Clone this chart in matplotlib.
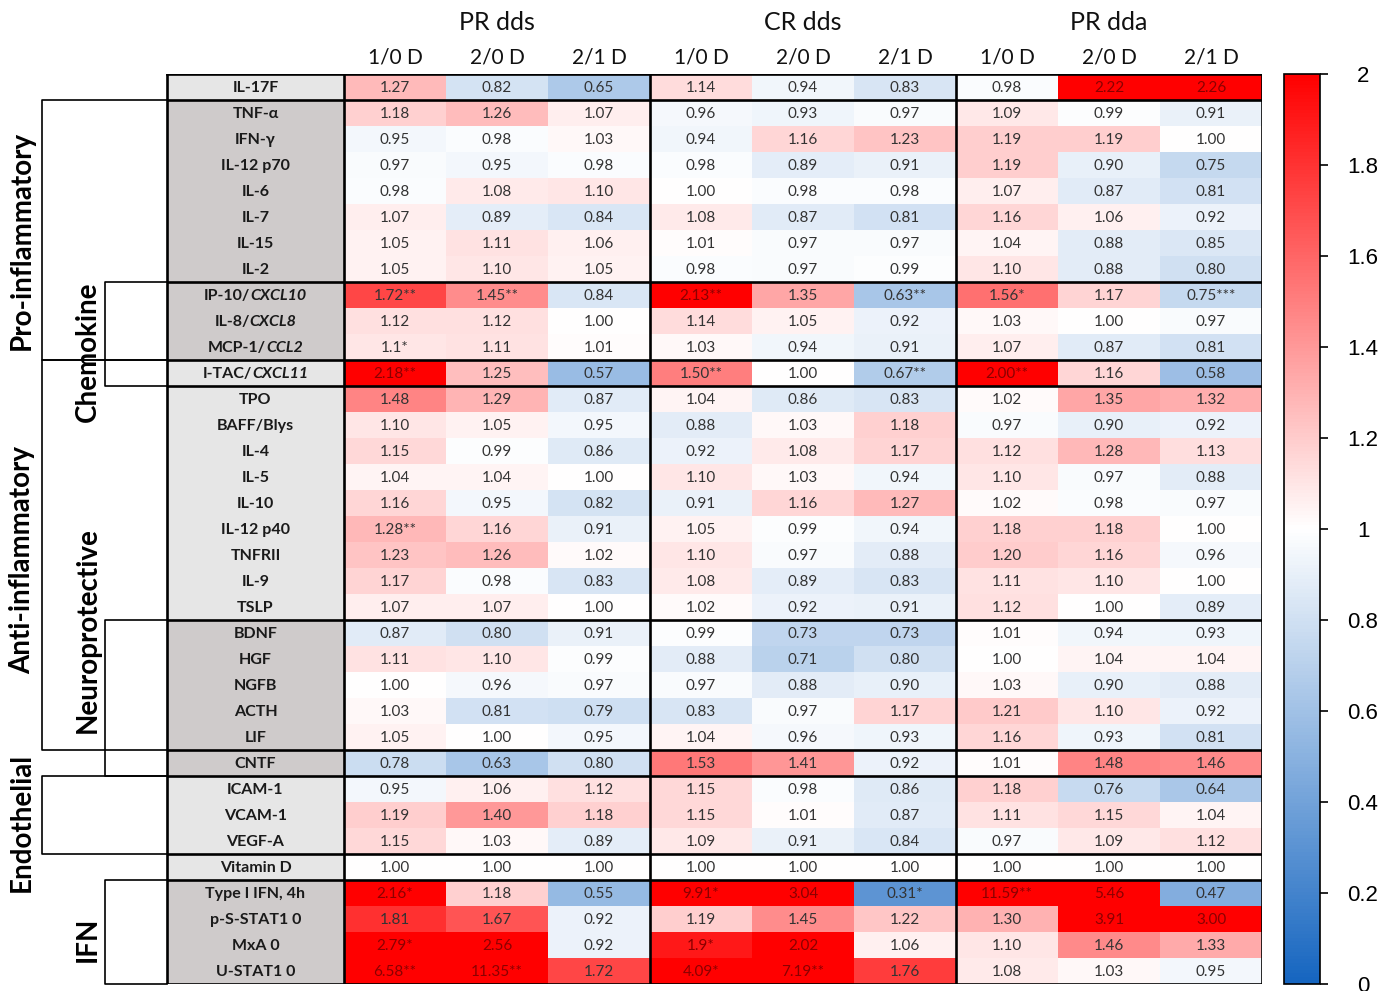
import numpy as np
import matplotlib
matplotlib.use("Agg")
import matplotlib.pyplot as plt
from matplotlib.colors import LinearSegmentedColormap
from matplotlib.patches import Rectangle
from matplotlib.offsetbox import TextArea, HPacker, AnnotationBbox
from matplotlib.ticker import FormatStrFormatter

plt.rcParams["font.family"] = ["Lato", "DejaVu Sans"]

# ---------------------------------------------------------------- data
groups = ["PR dds", "CR dds", "PR dda"]
contrasts = ["1/0 D", "2/0 D", "2/1 D"]

markers = [
    "IL-17F", "TNF-α", "IFN-γ", "IL-12 p70", "IL-6", "IL-7", "IL-15", "IL-2",
    "IP-10/CXCL10", "IL-8/CXCL8", "MCP-1/CCL2", "I-TAC/CXCL11",
    "TPO", "BAFF/Blys", "IL-4", "IL-5", "IL-10", "IL-12 p40", "TNFRII", "IL-9",
    "TSLP", "BDNF", "HGF", "NGFB", "ACTH", "LIF", "CNTF",
    "ICAM-1", "VCAM-1", "VEGF-A", "Vitamin D",
    "Type I IFN, 4h", "p-S-STAT1 0", "MxA 0", "U-STAT1 0",
]
gene_symbols = ["CXCL10", "CXCL8", "CCL2", "CXCL11"]

# fold changes with significance stars (1/0 D, 2/0 D, 2/1 D)
pr_dds = [
    ("1.27", "0.82", "0.65"), ("1.18", "1.26", "1.07"), ("0.95", "0.98", "1.03"),
    ("0.97", "0.95", "0.98"), ("0.98", "1.08", "1.10"), ("1.07", "0.89", "0.84"),
    ("1.05", "1.11", "1.06"), ("1.05", "1.10", "1.05"), ("1.72**", "1.45**", "0.84"),
    ("1.12", "1.12", "1.00"), ("1.1*", "1.11", "1.01"), ("2.18**", "1.25", "0.57"),
    ("1.48", "1.29", "0.87"), ("1.10", "1.05", "0.95"), ("1.15", "0.99", "0.86"),
    ("1.04", "1.04", "1.00"), ("1.16", "0.95", "0.82"), ("1.28**", "1.16", "0.91"),
    ("1.23", "1.26", "1.02"), ("1.17", "0.98", "0.83"), ("1.07", "1.07", "1.00"),
    ("0.87", "0.80", "0.91"), ("1.11", "1.10", "0.99"), ("1.00", "0.96", "0.97"),
    ("1.03", "0.81", "0.79"), ("1.05", "1.00", "0.95"), ("0.78", "0.63", "0.80"),
    ("0.95", "1.06", "1.12"), ("1.19", "1.40", "1.18"), ("1.15", "1.03", "0.89"),
    ("1.00", "1.00", "1.00"), ("2.16*", "1.18", "0.55"), ("1.81", "1.67", "0.92"),
    ("2.79*", "2.56", "0.92"), ("6.58**", "11.35**", "1.72"),
]
cr_dds = [
    ("1.14", "0.94", "0.83"), ("0.96", "0.93", "0.97"), ("0.94", "1.16", "1.23"),
    ("0.98", "0.89", "0.91"), ("1.00", "0.98", "0.98"), ("1.08", "0.87", "0.81"),
    ("1.01", "0.97", "0.97"), ("0.98", "0.97", "0.99"), ("2.13**", "1.35", "0.63**"),
    ("1.14", "1.05", "0.92"), ("1.03", "0.94", "0.91"), ("1.50**", "1.00", "0.67**"),
    ("1.04", "0.86", "0.83"), ("0.88", "1.03", "1.18"), ("0.92", "1.08", "1.17"),
    ("1.10", "1.03", "0.94"), ("0.91", "1.16", "1.27"), ("1.05", "0.99", "0.94"),
    ("1.10", "0.97", "0.88"), ("1.08", "0.89", "0.83"), ("1.02", "0.92", "0.91"),
    ("0.99", "0.73", "0.73"), ("0.88", "0.71", "0.80"), ("0.97", "0.88", "0.90"),
    ("0.83", "0.97", "1.17"), ("1.04", "0.96", "0.93"), ("1.53", "1.41", "0.92"),
    ("1.15", "0.98", "0.86"), ("1.15", "1.01", "0.87"), ("1.09", "0.91", "0.84"),
    ("1.00", "1.00", "1.00"), ("9.91*", "3.04", "0.31*"), ("1.19", "1.45", "1.22"),
    ("1.9*", "2.02", "1.06"), ("4.09*", "7.19**", "1.76"),
]
pr_dda = [
    ("0.98", "2.22", "2.26"), ("1.09", "0.99", "0.91"), ("1.19", "1.19", "1.00"),
    ("1.19", "0.90", "0.75"), ("1.07", "0.87", "0.81"), ("1.16", "1.06", "0.92"),
    ("1.04", "0.88", "0.85"), ("1.10", "0.88", "0.80"), ("1.56*", "1.17", "0.75***"),
    ("1.03", "1.00", "0.97"), ("1.07", "0.87", "0.81"), ("2.00**", "1.16", "0.58"),
    ("1.02", "1.35", "1.32"), ("0.97", "0.90", "0.92"), ("1.12", "1.28", "1.13"),
    ("1.10", "0.97", "0.88"), ("1.02", "0.98", "0.97"), ("1.18", "1.18", "1.00"),
    ("1.20", "1.16", "0.96"), ("1.11", "1.10", "1.00"), ("1.12", "1.00", "0.89"),
    ("1.01", "0.94", "0.93"), ("1.00", "1.04", "1.04"), ("1.03", "0.90", "0.88"),
    ("1.21", "1.10", "0.92"), ("1.16", "0.93", "0.81"), ("1.01", "1.48", "1.46"),
    ("1.18", "0.76", "0.64"), ("1.11", "1.15", "1.04"), ("0.97", "1.09", "1.12"),
    ("1.00", "1.00", "1.00"), ("11.59**", "5.46", "0.47"), ("1.30", "3.91", "3.00"),
    ("1.10", "1.46", "1.33"), ("1.08", "1.03", "0.95"),
]

# marker classes: (name, first row, end row)
outer_classes = [("Pro-inflammatory", 1, 11), ("Anti-inflammatory", 11, 26),
                 ("Endothelial", 27, 30)]
inner_classes = [("Chemokine", 8, 12), ("Neuroprotective", 21, 27), ("IFN", 31, 35)]
dark_blocks = [(1, 11), (21, 27), (31, 35)]
block_breaks = [1, 8, 11, 12, 21, 26, 27, 30, 31]

# ---------------------------------------------------------------- layout
labels = np.array([list(a) + list(b) + list(c)
                   for a, b, c in zip(pr_dds, cr_dds, pr_dda)])
values = np.vectorize(lambda s: float(s.rstrip("*")))(labels)
n_rows, n_cols = values.shape

W, H = 1394, 991
fig = plt.figure(figsize=(W / 100, H / 100), dpi=100)
fig.patch.set_facecolor("white")

col_px = 102.0
left_px, top_px, right_px, bottom_px = 0, 74, 1262, 984
ax = fig.add_axes([left_px / W, (H - bottom_px) / H,
                   (right_px - left_px) / W, (bottom_px - top_px) / H])
ax.set_xlim(-344 / col_px, n_cols)
ax.set_ylim(n_rows, 0)
ax.axis("off")

x_lab = (167 - 344) / col_px      # left edge of the marker column
x_outer = (42 - 344) / col_px     # outer class bracket
x_inner = (105 - 344) / col_px    # inner class bracket

cmap = LinearSegmentedColormap.from_list(
    "fold", [(0.0, "#1565c0"), (0.5, "#ffffff"), (1.0, "#ff0000")])
mesh = ax.pcolormesh(np.arange(n_cols + 1), np.arange(n_rows + 1), values,
                     cmap=cmap, vmin=0, vmax=2, shading="flat")

# cell annotations
for i in range(n_rows):
    for j in range(n_cols):
        v = values[i, j]
        color = "#8b0000" if v >= 1.85 else "#333333"
        ax.text(j + 0.5, i + 0.52, labels[i, j], ha="center", va="center",
                fontsize=11, color=color)

# marker column with shaded background
for i, name in enumerate(markers):
    dark = any(a <= i < b for a, b in dark_blocks)
    ax.add_patch(Rectangle((x_lab, i), -x_lab, 1,
                           facecolor="#cfcbcb" if dark else "#e6e6e6",
                           edgecolor="none"))
    cx, cy = x_lab / 2, i + 0.52
    split = [g for g in gene_symbols if name.endswith("/" + g)]
    if split:
        g = split[0]
        box = HPacker(children=[
            TextArea(name[:-len(g)], textprops=dict(fontsize=11.5, fontweight="bold",
                                                   color="#1a1a1a")),
            TextArea(g, textprops=dict(fontsize=11.5, fontweight="bold",
                                       fontstyle="italic", color="#1a1a1a")),
        ], pad=0, sep=0, align="baseline")
        ax.add_artist(AnnotationBbox(box, (cx, cy), frameon=False,
                                     box_alignment=(0.5, 0.5), pad=0))
    else:
        ax.text(cx, cy, name, ha="center", va="center", fontsize=11.5,
                fontweight="bold", color="#1a1a1a")

# thick grid of the table
lw_thick = 1.9
for b in block_breaks:
    ax.plot([x_lab, n_cols], [b, b], color="black", lw=lw_thick, solid_capstyle="butt")
for x in [x_lab, 0, 3, 6, n_cols]:
    ax.plot([x, x], [0, n_rows], color="black", lw=lw_thick, solid_capstyle="projecting")
for y in [0, n_rows]:
    ax.plot([x_lab, n_cols], [y, y], color="black", lw=lw_thick, solid_capstyle="projecting")

# class brackets
for xb, classes in [(x_outer, outer_classes), (x_inner, inner_classes)]:
    for _, r0, r1 in classes:
        ax.plot([x_lab, xb, xb, x_lab], [r0, r0, r1, r1], color="black", lw=1.2,
                clip_on=False)

class_label_rows = {"Pro-inflammatory": 6.4, "Anti-inflammatory": 18.7,
                    "Endothelial": 28.8, "Chemokine": 10.7,
                    "Neuroprotective": 21.4, "IFN": 33.3}
for xt, classes in [((22 - 344) / col_px, outer_classes),
                    ((88 - 344) / col_px, inner_classes)]:
    for name, _, _ in classes:
        ax.text(xt, class_label_rows[name], name, rotation=90, ha="center",
                va="center", fontsize=20, fontweight="bold", color="black")

# column headers
for k, g in enumerate(groups):
    ax.text(3 * k + 1.5, -2.0, g, ha="center", va="center", fontsize=18,
            color="#111111", clip_on=False)
    for m, c in enumerate(contrasts):
        ax.text(3 * k + m + 0.5, -0.62, c, ha="center", va="center", fontsize=15,
                color="#111111", clip_on=False)

# colour bar
cax = fig.add_axes([1284 / W, (H - bottom_px) / H, 36 / W, (bottom_px - top_px) / H])
cb = fig.colorbar(mesh, cax=cax, ticks=np.linspace(0, 2, 11))
cb.outline.set_linewidth(1.2)
cb.ax.yaxis.set_major_formatter(FormatStrFormatter("%g"))
cb.ax.tick_params(length=6, width=1.2, pad=25, labelsize=16, colors="black")
for t in cb.ax.get_yticklabels():
    t.set_family(["Liberation Sans", "DejaVu Sans"])
    t.set_ha("center")

fig.savefig("out.png", dpi=100, facecolor="white")
